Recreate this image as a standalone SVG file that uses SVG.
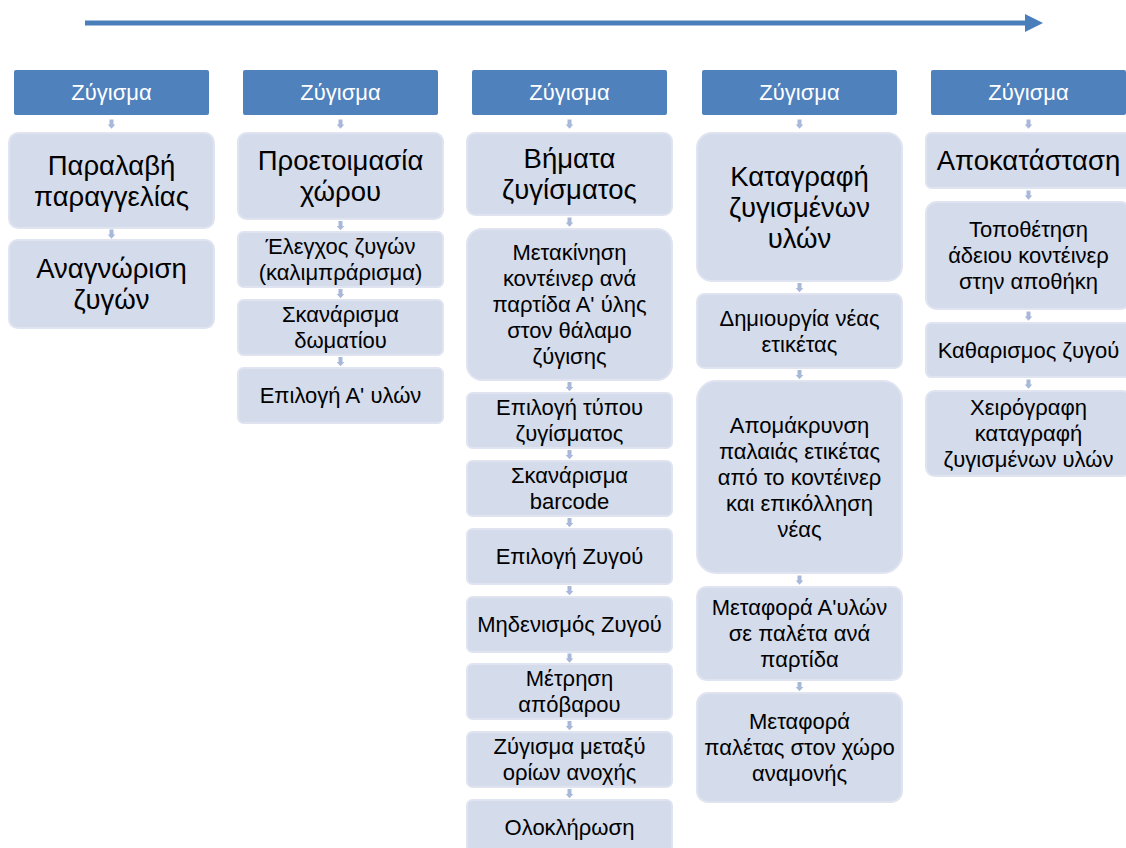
<svg xmlns="http://www.w3.org/2000/svg" xmlns:xlink="http://www.w3.org/1999/xlink" width="1126" height="848" viewBox="0 0 1126 848">
  <style>
    .hdr rect { fill: #4F81BD; }
    .hdr text { fill: #FFFFFF; font-family: "Liberation Sans", Arial, sans-serif; font-size: 22px; text-anchor: middle; }
    .box rect { fill: #D4DBEA; stroke: #DFE4F0; stroke-width: 2; }
    .box text { fill: #000000; font-family: "Liberation Sans", Arial, sans-serif; text-anchor: middle; }
    .lg { font-size: 27.5px; }
    .sm { font-size: 22px; }
    .step { fill: #A8B8D9; }
  </style>
  <defs>
    <!-- small down-pointing step arrow, centred on its origin -->
    <path id="step" class="step" d="M-2,-4.5 H2 V0.5 H3.8 L0,4.8 L-3.8,0.5 H-2 Z"/>
  </defs>

  <!-- timeline arrow -->
  <g id="timeline">
    <rect x="85" y="20.5" width="941" height="5" fill="#4A7EBB"/>
    <path d="M1025,14 L1043,23 L1025,32 Z" fill="#4A7EBB"/>
  </g>

  <!-- headers -->
  <g id="h1" class="hdr"><rect x="14" y="70" width="195" height="45" rx="2"/><text x="111.5" y="100">Ζύγισμα</text></g>
  <g id="h2" class="hdr"><rect x="243" y="70" width="195" height="45" rx="2"/><text x="340.5" y="100">Ζύγισμα</text></g>
  <g id="h3" class="hdr"><rect x="472" y="70" width="195" height="45" rx="2"/><text x="569.5" y="100">Ζύγισμα</text></g>
  <g id="h4" class="hdr"><rect x="702" y="70" width="195" height="45" rx="2"/><text x="799.5" y="100">Ζύγισμα</text></g>
  <g id="h5" class="hdr"><rect x="931" y="70" width="195" height="45" rx="2"/><text x="1028.5" y="100">Ζύγισμα</text></g>

  <!-- column 1 -->
  <g id="c1n1" class="box"><rect x="9" y="133" width="205" height="95" rx="9.5"/>
    <text class="lg" x="111.5" y="174.6">Παραλαβή</text><text class="lg" x="111.5" y="205.6">παραγγελίας</text></g>
  <g id="c1n2" class="box"><rect x="9" y="240" width="205" height="88" rx="8.8"/>
    <text class="lg" x="111.5" y="278.1">Αναγνώριση</text><text class="lg" x="111.5" y="309.1">ζυγών</text></g>

  <!-- column 2 -->
  <g id="c2n1" class="box"><rect x="238" y="133" width="205" height="86" rx="8.6"/>
    <text class="lg" x="340.5" y="170.1">Προετοιμασία</text><text class="lg" x="340.5" y="201.1">χώρου</text></g>
  <g id="c2n2" class="box"><rect x="238" y="232" width="205" height="55" rx="5.5"/>
    <text class="sm" x="340.5" y="254.2">Έλεγχος ζυγών</text><text class="sm" x="340.5" y="280.2">(καλιμπράρισμα)</text></g>
  <g id="c2n3" class="box"><rect x="238" y="300" width="205" height="55" rx="5.5"/>
    <text class="sm" x="340.5" y="322.2">Σκανάρισμα</text><text class="sm" x="340.5" y="348.2">δωματίου</text></g>
  <g id="c2n4" class="box"><rect x="238" y="368" width="205" height="55" rx="5.5"/>
    <text class="sm" x="340.5" y="403.2">Επιλογή Α' υλών</text></g>

  <!-- column 3 -->
  <g id="c3n1" class="box"><rect x="467" y="133" width="205" height="82" rx="8.2"/>
    <text class="lg" x="569.5" y="168.1">Βήματα</text><text class="lg" x="569.5" y="199.1">ζυγίσματος</text></g>
  <g id="c3n2" class="box"><rect x="467" y="229" width="205" height="151" rx="15"/>
    <text class="sm" x="569.5" y="260.2">Μετακίνηση</text>
    <text class="sm" x="569.5" y="286.2">κοντέινερ ανά</text>
    <text class="sm" x="569.5" y="312.2">παρτίδα Α' ύλης</text>
    <text class="sm" x="569.5" y="338.2">στον θάλαμο</text>
    <text class="sm" x="569.5" y="364.2">ζύγισης</text></g>
  <g id="c3n3" class="box"><rect x="467" y="393" width="205" height="55" rx="5.5"/>
    <text class="sm" x="569.5" y="415.2">Επιλογή τύπου</text><text class="sm" x="569.5" y="441.2">ζυγίσματος</text></g>
  <g id="c3n4" class="box"><rect x="467" y="461" width="205" height="55" rx="5.5"/>
    <text class="sm" x="569.5" y="483.2">Σκανάρισμα</text><text class="sm" x="569.5" y="509.2">barcode</text></g>
  <g id="c3n5" class="box"><rect x="467" y="529" width="205" height="55" rx="5.5"/>
    <text class="sm" x="569.5" y="564.2">Επιλογή Ζυγού</text></g>
  <g id="c3n6" class="box"><rect x="467" y="597" width="205" height="55" rx="5.5"/>
    <text class="sm" x="569.5" y="632.2">Μηδενισμός Ζυγού</text></g>
  <g id="c3n7" class="box"><rect x="467" y="664" width="205" height="55" rx="5.5"/>
    <text class="sm" x="569.5" y="686.2">Μέτρηση</text><text class="sm" x="569.5" y="712.2">απόβαρου</text></g>
  <g id="c3n8" class="box"><rect x="467" y="732" width="205" height="55" rx="5.5"/>
    <text class="sm" x="569.5" y="754.2">Ζύγισμα μεταξύ</text><text class="sm" x="569.5" y="780.2">ορίων ανοχής</text></g>
  <g id="c3n9" class="box"><rect x="467" y="800" width="205" height="55" rx="5.5"/>
    <text class="sm" x="569.5" y="835.2">Ολοκλήρωση</text></g>

  <!-- column 4 -->
  <g id="c4n1" class="box"><rect x="697" y="133" width="205" height="148" rx="14.8"/>
    <text class="lg" x="799.5" y="185.6">Καταγραφή</text>
    <text class="lg" x="799.5" y="216.6">ζυγισμένων</text>
    <text class="lg" x="799.5" y="247.6">υλών</text></g>
  <g id="c4n2" class="box"><rect x="697" y="294" width="205" height="74" rx="7.4"/>
    <text class="sm" x="799.5" y="325.7">Δημιουργία νέας</text><text class="sm" x="799.5" y="351.7">ετικέτας</text></g>
  <g id="c4n3" class="box"><rect x="697" y="381" width="205" height="192" rx="19.2"/>
    <text class="sm" x="799.5" y="432.7">Απομάκρυνση</text>
    <text class="sm" x="799.5" y="458.7">παλαιάς ετικέτας</text>
    <text class="sm" x="799.5" y="484.7">από το κοντέινερ</text>
    <text class="sm" x="799.5" y="510.7">και επικόλληση</text>
    <text class="sm" x="799.5" y="536.7">νέας</text></g>
  <g id="c4n4" class="box"><rect x="697" y="587" width="205" height="93" rx="9.3"/>
    <text class="sm" x="799.5" y="615.2">Μεταφορά Α'υλών</text>
    <text class="sm" x="799.5" y="641.2">σε παλέτα ανά</text>
    <text class="sm" x="799.5" y="667.2">παρτίδα</text></g>
  <g id="c4n5" class="box"><rect x="697" y="693" width="205" height="109" rx="10.9"/>
    <text class="sm" x="799.5" y="729.2">Μεταφορά</text>
    <text class="sm" x="799.5" y="755.2">παλέτας στον χώρο</text>
    <text class="sm" x="799.5" y="781.2">αναμονής</text></g>

  <!-- column 5 -->
  <g id="c5n1" class="box"><rect x="926" y="133" width="205" height="55" rx="5.5"/>
    <text class="lg" x="1028.5" y="170.1">Αποκατάσταση</text></g>
  <g id="c5n2" class="box"><rect x="926" y="202" width="205" height="107" rx="10.7"/>
    <text class="sm" x="1028.5" y="237.2">Τοποθέτηση</text>
    <text class="sm" x="1028.5" y="263.2">άδειου κοντέινερ</text>
    <text class="sm" x="1028.5" y="289.2">στην αποθήκη</text></g>
  <g id="c5n3" class="box"><rect x="926" y="323" width="205" height="54" rx="5.4"/>
    <text class="sm" x="1028.5" y="357.7">Καθαρισμος ζυγού</text></g>
  <g id="c5n4" class="box"><rect x="926" y="391" width="205" height="85" rx="8.5"/>
    <text class="sm" x="1028.5" y="415.2">Χειρόγραφη</text>
    <text class="sm" x="1028.5" y="441.2">καταγραφή</text>
    <text class="sm" x="1028.5" y="467.2">ζυγισμένων υλών</text></g>

  <!-- step connectors -->
  <g id="connectors">
    <use xlink:href="#step" x="111.5" y="124"/>
    <use xlink:href="#step" x="111.5" y="234"/>

    <use xlink:href="#step" x="340.5" y="124"/>
    <use xlink:href="#step" x="340.5" y="225.5"/>
    <use xlink:href="#step" x="340.5" y="293.5"/>
    <use xlink:href="#step" x="340.5" y="361.5"/>

    <use xlink:href="#step" x="569.5" y="124"/>
    <use xlink:href="#step" x="569.5" y="222"/>
    <use xlink:href="#step" x="569.5" y="386.5"/>
    <use xlink:href="#step" x="569.5" y="454.5"/>
    <use xlink:href="#step" x="569.5" y="522.5"/>
    <use xlink:href="#step" x="569.5" y="590.5"/>
    <use xlink:href="#step" x="569.5" y="658"/>
    <use xlink:href="#step" x="569.5" y="725.5"/>
    <use xlink:href="#step" x="569.5" y="793.5"/>

    <use xlink:href="#step" x="799.5" y="124"/>
    <use xlink:href="#step" x="799.5" y="287.5"/>
    <use xlink:href="#step" x="799.5" y="374.5"/>
    <use xlink:href="#step" x="799.5" y="580"/>
    <use xlink:href="#step" x="799.5" y="686.5"/>

    <use xlink:href="#step" x="1028.5" y="124"/>
    <use xlink:href="#step" x="1028.5" y="195"/>
    <use xlink:href="#step" x="1028.5" y="316"/>
    <use xlink:href="#step" x="1028.5" y="384"/>
  </g>
</svg>
